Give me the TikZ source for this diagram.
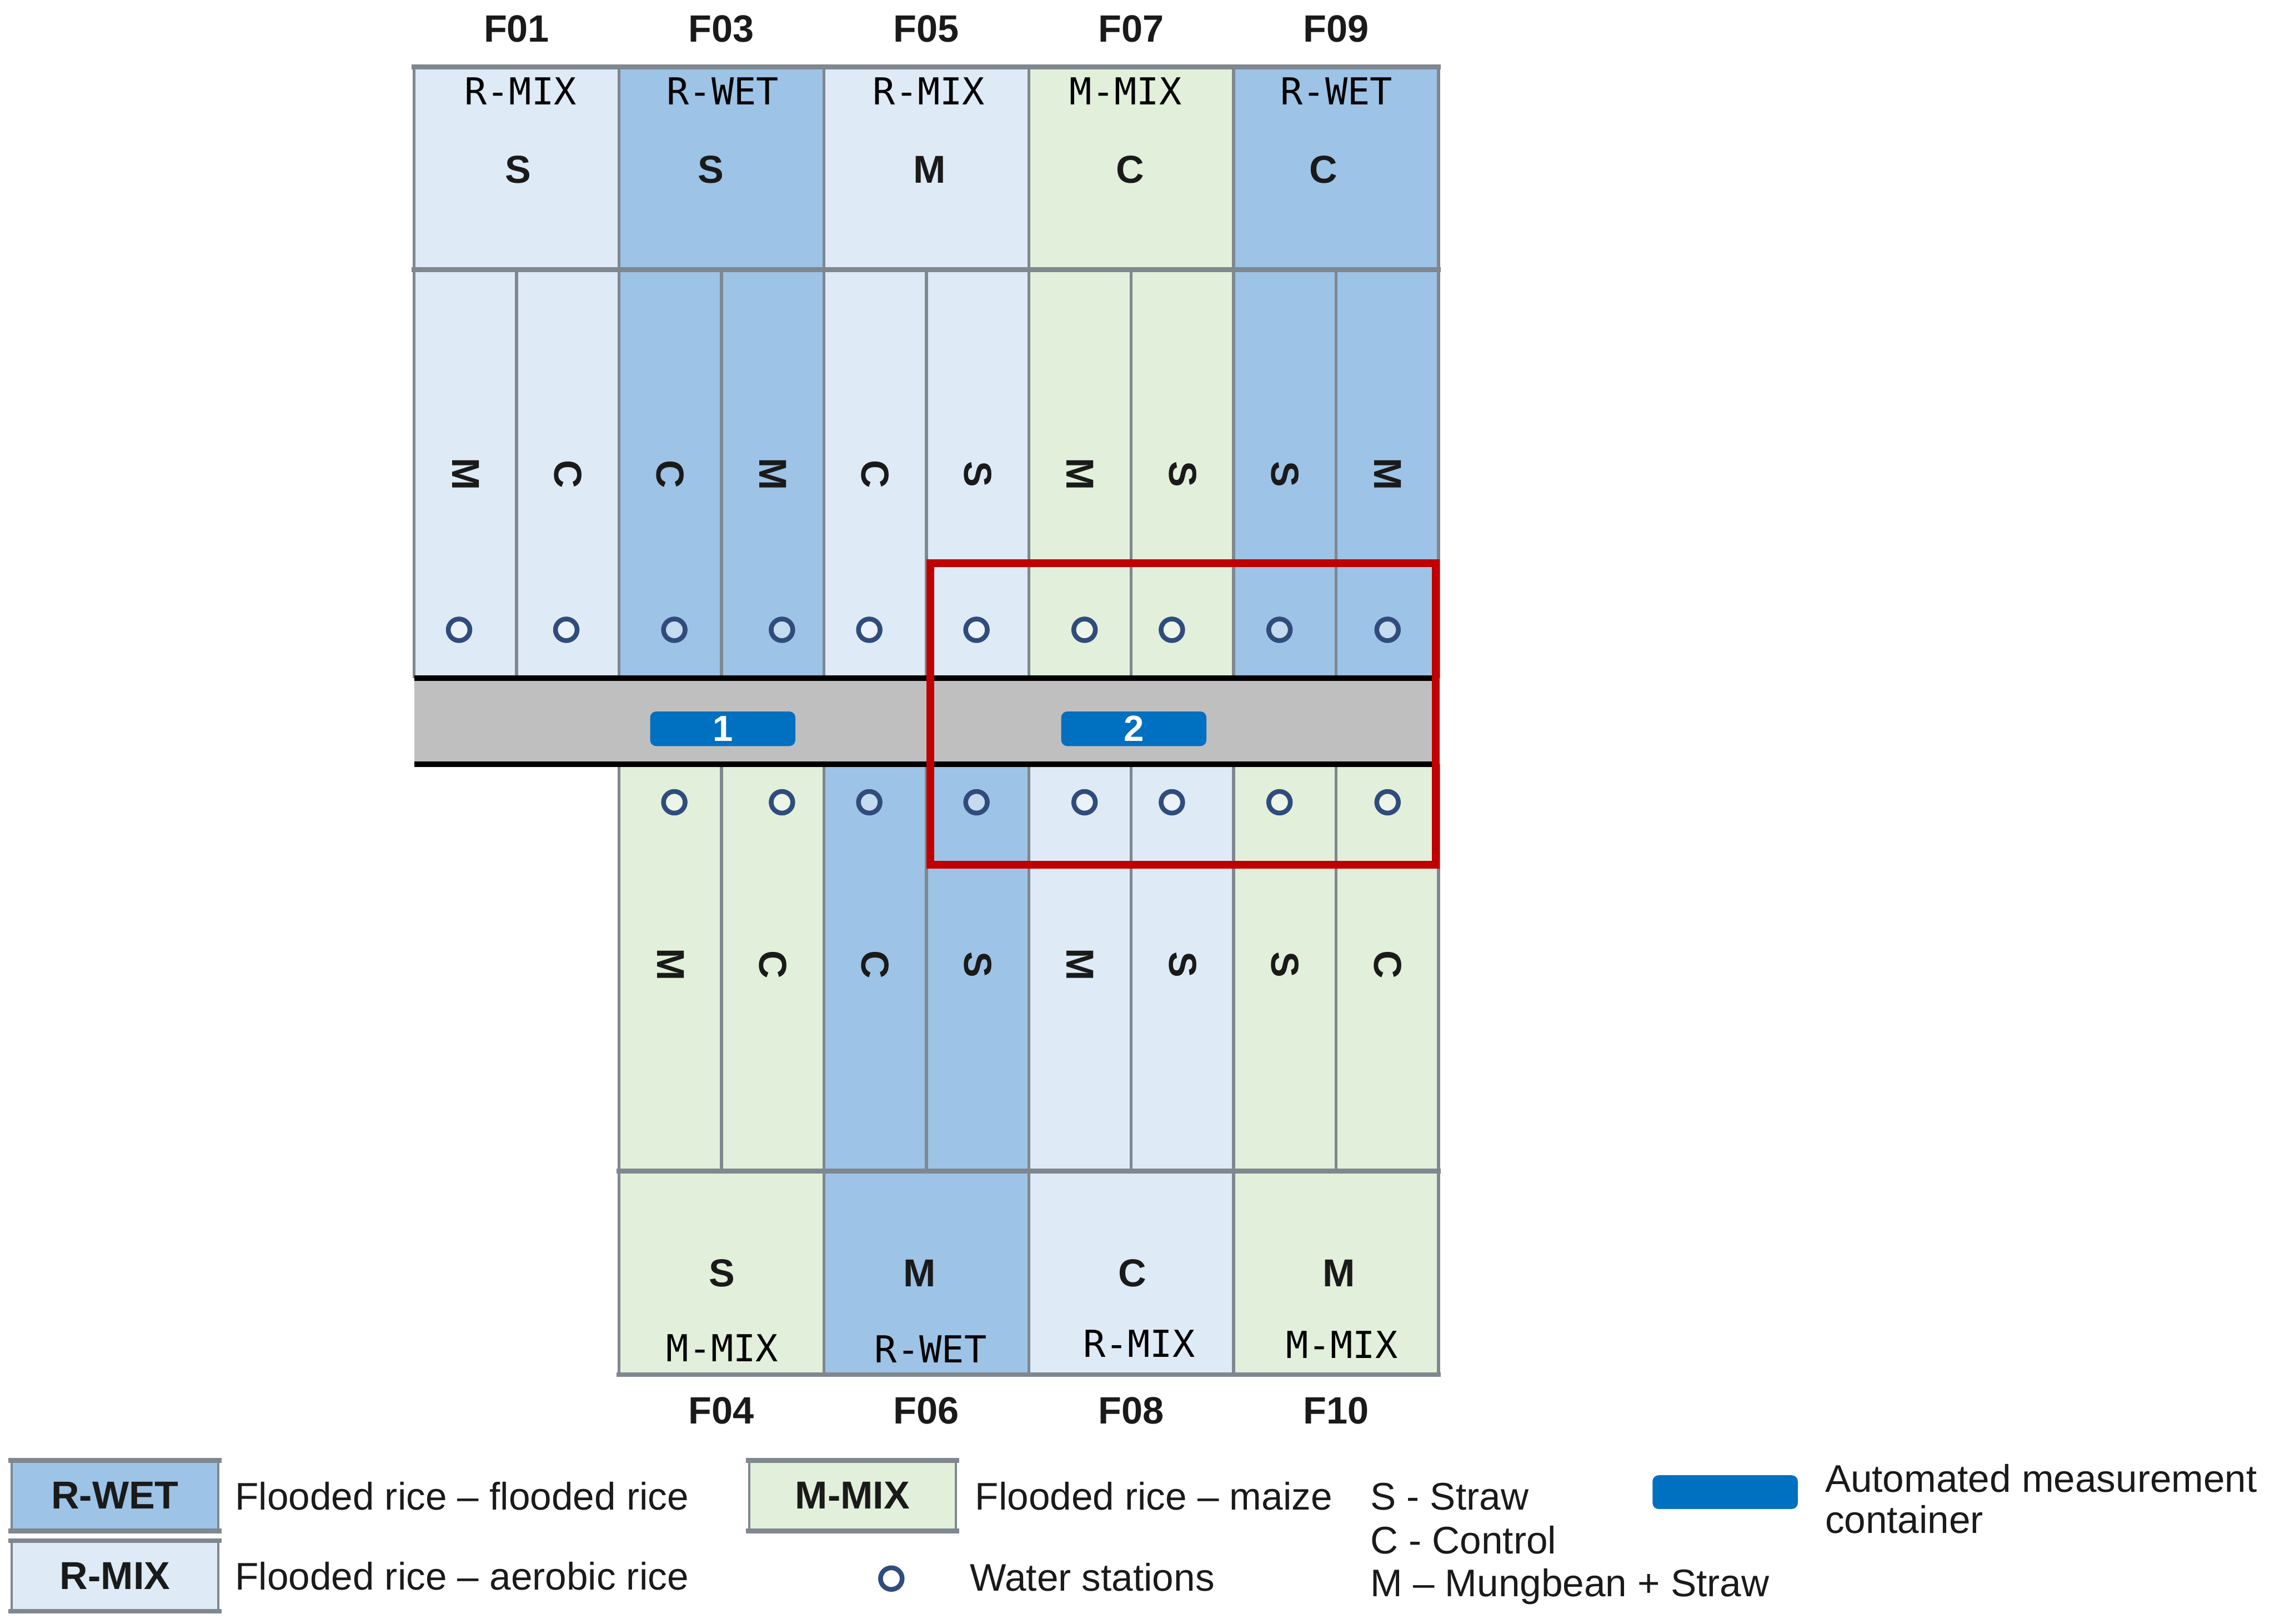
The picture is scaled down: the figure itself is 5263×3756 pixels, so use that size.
\documentclass[tikz,border=0pt]{standalone}
\usepackage{fontspec}
\setmainfont{Liberation Sans}
\newfontfamily\monofnt{DejaVu Sans Mono}
\definecolor{rwet}{HTML}{9DC3E6}
\definecolor{rmix}{HTML}{DEEAF6}
\definecolor{mmix}{HTML}{E2EFDA}
\definecolor{bordergrey}{HTML}{7F878F}
\definecolor{roadgrey}{HTML}{C0BFBF}
\definecolor{contblue}{HTML}{0070C0}
\definecolor{stationblue}{HTML}{2F4C7C}
\definecolor{focusred}{HTML}{C00000}
\definecolor{txt}{HTML}{1A1A1A}
\tikzset{
  vline/.style={draw=bordergrey, line width=7pt},
  hline/.style={draw=bordergrey, line width=11pt, line cap=rect},
  roadline/.style={draw=black, line width=12pt},
  fieldlbl/.style={font=\fontsize{88}{100}\selectfont\bfseries, text=txt, inner sep=0pt},
  typelbl/.style={font=\monofnt\fontsize{86}{100}\selectfont, text=black, inner sep=0pt},
  trt/.style={font=\fontsize{90}{100}\selectfont\bfseries, text=txt, inner sep=0pt},
  trtrot/.style={trt, rotate=-90},
  stationmark/.style={circle, draw=stationblue, line width=11pt, fill=white, fill opacity=0.4, draw opacity=1, minimum size=50pt, inner sep=0pt},
  container/.style={rectangle, rounded corners=14pt, fill=contblue, minimum width=336pt, minimum height=80pt, inner sep=0pt, text=white, font=\fontsize{84}{90}\selectfont\bfseries},
  legbox/.style={rectangle, draw=bordergrey, line width=5pt, minimum width=478pt, minimum height=158pt, inner sep=0pt, font=\fontsize{90}{100}\selectfont\bfseries, text=txt},
  legtext/.style={font=\fontsize{89}{100}\selectfont, text=txt, inner sep=0pt, anchor=base west},
}
\begin{document}
\begin{tikzpicture}[x=1pt,y=-1pt]
\useasboundingbox (0,0) rectangle (5263,3756);
\fill[white] (0,0) rectangle (5263,3756);
% ---- field fills (north block) ----
\fill[rmix] (958,155) rectangle (1432,1569);
\fill[rwet] (1432,155) rectangle (1906,1569);
\fill[rmix] (1906,155) rectangle (2380,1569);
\fill[mmix] (2380,155) rectangle (2854,1569);
\fill[rwet] (2854,155) rectangle (3328,1569);
% ---- field fills (south block) ----
\fill[mmix] (1432,1768) rectangle (1906,3180);
\fill[rwet] (1906,1768) rectangle (2380,3180);
\fill[rmix] (2380,1768) rectangle (2854,3180);
\fill[mmix] (2854,1768) rectangle (3328,3180);
% ---- borders ----
\foreach \x in {958,1432,1906,2380,2854,3328} \draw[vline] (\x,155) -- (\x,1569);
\foreach \x in {1195,1669,2143,2617,3091} \draw[vline] (\x,624) -- (\x,1569);
\foreach \x in {1432,1906,2380,2854,3328} \draw[vline] (\x,1768) -- (\x,3180);
\foreach \x in {1669,2143,2617,3091} \draw[vline] (\x,1768) -- (\x,2709);
\draw[hline] (958,155) -- (3328,155);
\draw[hline] (958,624) -- (3328,624);
\draw[hline] (1432,2709) -- (3328,2709);
\draw[hline] (1432,3180) -- (3328,3180);
% ---- road ----
\fill[roadgrey] (958,1569) rectangle (3328,1768);
\draw[roadline] (958,1569) -- (3328,1569);
\draw[roadline] (958,1768) -- (3328,1768);
\node[container] (cont1) at (1672,1686) {1};
\node[container] (cont2) at (2623,1686) {2};
% ---- field numbers ----
\node[fieldlbl] (f01) at (1195,67) {F01};
\node[fieldlbl] (f03) at (1669,67) {F03};
\node[fieldlbl] (f05) at (2143,67) {F05};
\node[fieldlbl] (f07) at (2617,67) {F07};
\node[fieldlbl] (f09) at (3091,67) {F09};
\node[fieldlbl] (f04) at (1669,3264) {F04};
\node[fieldlbl] (f06) at (2143,3264) {F06};
\node[fieldlbl] (f08) at (2617,3264) {F08};
\node[fieldlbl] (f10) at (3091,3264) {F10};
% ---- rotation type labels ----
\node[typelbl] (t01) at (1204,211) {R-MIX};
\node[typelbl] (t03) at (1672,211) {R-WET};
\node[typelbl] (t05) at (2149,211) {R-MIX};
\node[typelbl] (t07) at (2604,211) {M-MIX};
\node[typelbl] (t09) at (3092,211) {R-WET};
\node[typelbl] (t04) at (1671,3118) {M-MIX};
\node[typelbl] (t06) at (2153,3121) {R-WET};
\node[typelbl] (t08) at (2635,3108) {R-MIX};
\node[typelbl] (t10) at (3104,3111) {M-MIX};
% ---- whole-plot treatments ----
\node[trt] (h01) at (1199,393) {S};
\node[trt] (h03) at (1645,393) {S};
\node[trt] (h05) at (2150,393) {M};
\node[trt] (h07) at (2614,393) {C};
\node[trt] (h09) at (3061,393) {C};
\node[trt] (h04) at (1670,2945) {S};
\node[trt] (h06) at (2127,2945) {M};
\node[trt] (h08) at (2619,2945) {C};
\node[trt] (h10) at (3097,2945) {M};
% ---- sub-plot treatments (rotated) ----
\foreach \x/\l [count=\i] in {1077/M,1314/C,1551/C,1788/M,2025/C,2262/S,2499/M,2736/S,2973/S,3210/M}
  \node[trtrot] (u\i) at (\x,1097) {\l};
\foreach \x/\l [count=\i] in {1551/M,1788/C,2025/C,2262/S,2499/M,2736/S,2973/S,3210/C}
  \node[trtrot] (d\i) at (\x,2232) {\l};
% ---- water stations ----
\foreach \x [count=\i] in {1062,1310,1560,1809,2011,2259,2509,2711,2960,3210}
  \node[stationmark] (wu\i) at (\x,1457) {};
\foreach \x [count=\i] in {1560,1809,2011,2259,2509,2711,2960,3210}
  \node[stationmark] (wd\i) at (\x,1856) {};
% ---- focus frame ----
\draw[focusred, line width=18pt] (2152,1303) rectangle (3322,2001);
% ---- legend ----
\node[legbox, fill=rwet] (lgwet) at (266,3460) {R-WET};
\node[legbox, fill=rmix] (lgmix) at (266,3646) {R-MIX};
\node[legbox, fill=mmix] (lgmm) at (1972,3460) {M-MIX};
\draw[hline] (lgwet.north west) -- (lgwet.north east);
\draw[hline] (lgwet.south west) -- (lgwet.south east);
\draw[hline] (lgmix.north west) -- (lgmix.north east);
\draw[hline] (lgmix.south west) -- (lgmix.south east);
\draw[hline] (lgmm.north west) -- (lgmm.north east);
\draw[hline] (lgmm.south west) -- (lgmm.south east);
\node[legtext] (lt1) at (544,3493) {Flooded rice – flooded rice};
\node[legtext] (lt2) at (544,3678) {Flooded rice – aerobic rice};
\node[legtext] (lt3) at (2256,3493) {Flooded rice – maize};
\node[stationmark] (lgst) at (2062,3652) {};
\node[legtext] (lt4) at (2244,3680) {Water stations};
\node[legtext] (lt5) at (3170,3493) {S - Straw};
\node[legtext] (lt6) at (3170,3594) {C - Control};
\node[legtext] (lt7) at (3170,3694) {M – Mungbean + Straw};
\node[container, minimum width=336pt, minimum height=78pt] (lgcont) at (3991,3452) {};
\node[legtext] (lt8) at (4222,3452) {Automated measurement};
\node[legtext] (lt9) at (4222,3547) {container};
\end{tikzpicture}
\end{document}
